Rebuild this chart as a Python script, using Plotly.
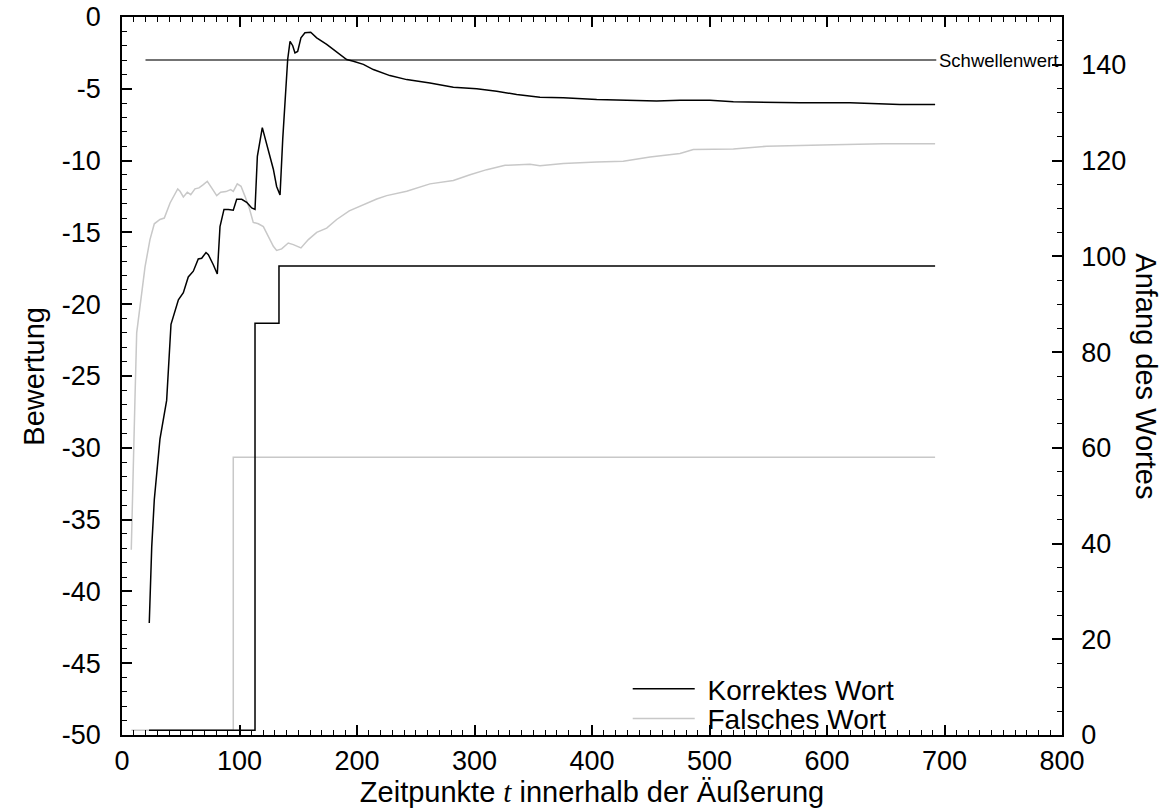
import plotly.graph_objects as go

# ---- data ----
korrekt_t = [23.2, 25.3, 27.5, 32.3, 38, 41.7, 48, 52.2, 56.4, 60.7,
             64.9, 67.8, 71.5, 73.5, 77.7, 81.1, 83.4, 86.8, 90.5, 94.7,
             97.6, 101.9, 106.1, 110.4, 113.2, 115.2, 119.4, 123.1, 128.8, 131.6,
             134.5, 136.8, 138.7, 141, 143, 145.3, 147.2, 149.5, 152.3, 155.7,
             160.6, 165.7, 174.2, 182.7, 191.2, 196.9, 205.4, 213.9, 228, 242.3,
             262.1, 282, 301.9, 318.9, 335.9, 355.7, 375.6, 404, 432.3, 455,
             475, 500.4, 520.3, 577, 619.6, 662, 692]
korrekt_score = [-42.2, -36.9, -33.6, -29.4, -26.7, -21.4, -19.7, -19.2, -18.1, -17.7,
                 -16.85, -16.8, -16.4, -16.55, -17.25, -17.9, -14.6, -13.4, -13.4, -13.45,
                 -12.7, -12.7, -12.9, -13.3, -13.4, -9.7, -7.7, -8.8, -10.6, -11.8,
                 -12.4, -8.5, -5.75, -2.96, -1.7, -2.0, -2.5, -2.4, -1.45, -1.1,
                 -1.06, -1.45, -1.9, -2.4, -2.96, -3.08, -3.3, -3.66, -4.08, -4.36,
                 -4.59, -4.89, -5.0, -5.17, -5.4, -5.59, -5.63, -5.75, -5.8, -5.85,
                 -5.8, -5.8, -5.9, -5.98, -5.98, -6.1, -6.1]

falsch_t = [7.9, 9.6, 11, 12.5, 16.2, 19.6, 23.8, 27.5, 32.3, 36,
            40.9, 45.1, 47.4, 49.4, 52.2, 55.6, 58.5, 62.1, 65.5, 69.2,
            72.6, 76.3, 80.6, 84, 88.5, 92.5, 94.7, 98.1, 101.3, 104.7,
            108.3, 111.7, 116, 120.3, 124.5, 128.8, 131.6, 135.9, 141.5, 145.8,
            152.3, 158.6, 165.7, 174.2, 182.7, 193.4, 216.8, 225.3, 242.3, 262.1,
            282, 296.2, 310.4, 326, 347.2, 355.7, 375.6, 404, 426.6, 449.4,
            474.9, 486.2, 520.3, 548.7, 605.4, 648, 692]
falsch_score = [-37.1, -30.6, -26.7, -22, -19.7, -17.4, -15.5, -14.4, -14.1, -14.0,
                -12.95, -12.25, -11.97, -12.14, -12.53, -12.2, -12.37, -11.97, -11.9, -11.67,
                -11.44, -11.9, -12.44, -12.2, -12.16, -12.02, -12.14, -11.62, -11.79, -12.49,
                -13.3, -14.3, -14.4, -14.6, -15.3, -15.97, -16.25, -16.15, -15.74, -15.85,
                -16.08, -15.5, -15.0, -14.7, -14.1, -13.5, -12.67, -12.44, -12.14, -11.62,
                -11.39, -10.98, -10.63, -10.33, -10.26, -10.35, -10.21, -10.09, -10.05, -9.75,
                -9.51, -9.23, -9.19, -9.0, -8.89, -8.82, -8.82]

# word start frame (right axis), step functions
korrekt_anfang_t = [23, 113.2, 133.6, 692]
korrekt_anfang = [1, 86, 98, 98]
falsch_anfang_t = [8, 94.7, 692]
falsch_anfang = [1, 58, 58]

schwelle_t = [20, 693]
schwelle_wert = -3
schwelle_label = "Schwellenwert"

# tick labels (plain hyphen as minus sign)
y_tickvals = [0, -5, -10, -15, -20, -25, -30, -35, -40, -45, -50]
y_ticktext = ["0", "-5", "-10", "-15", "-20", "-25", "-30", "-35", "-40", "-45", "-50"]

FONT = "Liberation Sans, Arial, sans-serif"
GREY = "#c8c8c8"
TICK_SIZE = 27
TITLE_SIZE = 29
LEGEND_SIZE = 28

fig = go.Figure()
fig.add_trace(go.Scatter(x=schwelle_t, y=[schwelle_wert] * len(schwelle_t), mode="lines",
                         line=dict(color="#444444", width=1.5), showlegend=False, hoverinfo="skip"))
fig.add_trace(go.Scatter(x=falsch_anfang_t, y=falsch_anfang, mode="lines", line_shape="hv",
                         line=dict(color=GREY, width=1.5), yaxis="y2", showlegend=False))
fig.add_trace(go.Scatter(x=korrekt_anfang_t, y=korrekt_anfang, mode="lines", line_shape="hv",
                         line=dict(color="black", width=1.5), yaxis="y2", showlegend=False))
fig.add_trace(go.Scatter(x=falsch_t, y=falsch_score, mode="lines", name="&nbsp;Falsches Wort",
                         line=dict(color=GREY, width=1.5), legend="legend2"))
fig.add_trace(go.Scatter(x=korrekt_t, y=korrekt_score, mode="lines", name="&nbsp;Korrektes Wort",
                         line=dict(color="black", width=1.5), legend="legend"))

fig.add_annotation(x=schwelle_t[-1], y=schwelle_wert, xref="x", yref="y", text=schwelle_label,
                   showarrow=False, xanchor="left", yanchor="middle", xshift=1,
                   font=dict(family=FONT, size=18.5, color="black"))

fig.add_annotation(x=1.089, y=0.5, xref="paper", yref="paper", text="Anfang des Wortes",
                   textangle=90, showarrow=False, xanchor="center", yanchor="middle",
                   font=dict(family=FONT, size=TITLE_SIZE, color="black"))
fig.add_annotation(x=-0.094, y=0.5, xref="paper", yref="paper", text="Bewertung",
                   textangle=-90, showarrow=False, xanchor="center", yanchor="middle",
                   font=dict(family=FONT, size=TITLE_SIZE, color="black"))

tickfont = dict(family=FONT, size=TICK_SIZE, color="black")
legend_common = dict(xanchor="left", yanchor="middle", bgcolor="rgba(0,0,0,0)",
                     font=dict(family=FONT, size=LEGEND_SIZE, color="black"), itemwidth=62,
                     borderwidth=0)
fig.update_layout(
    width=1174, height=811,
    margin=dict(l=122, r=112, t=17, b=76, autoexpand=False),
    paper_bgcolor="white", plot_bgcolor="white",
    font=dict(family=FONT, size=TICK_SIZE, color="black"),
    xaxis=dict(range=[0, 800], dtick=100, tick0=0, ticks="inside", ticklen=10, tickwidth=1.5,
               tickcolor="black", showline=True, linecolor="black", linewidth=1.5, mirror="ticks",
               showgrid=False, zeroline=False, tickfont=tickfont, ticklabelstandoff=1,
               minor=dict(dtick=10, ticks="inside", ticklen=5, tickwidth=1.2, tickcolor="black"),
               title=dict(text="Zeitpunkte <span style=\"font-family:'Liberation Serif'\"><i>t</i></span> innerhalb der Äußerung",
                          font=dict(family=FONT, size=TITLE_SIZE), standoff=0)),
    yaxis=dict(range=[-50, 0], tickvals=y_tickvals, ticktext=y_ticktext, ticks="inside",
               ticklen=10, tickwidth=1.5,
               tickcolor="black", showline=True, linecolor="black", linewidth=1.5, mirror=False,
               showgrid=False, zeroline=False, tickfont=tickfont, ticklabelstandoff=14,
               minor=dict(dtick=1, ticks="inside", ticklen=5, tickwidth=1.2, tickcolor="black")),
    yaxis2=dict(range=[0, 150], dtick=20, overlaying="y", side="right", ticks="inside", ticklen=10,
                tickwidth=1.5, tickcolor="black", showline=True, linecolor="black", linewidth=1.5,
                showgrid=False, zeroline=False, tickfont=tickfont, ticklabelstandoff=12,
                minor=dict(dtick=5, ticks="inside", ticklen=5, tickwidth=1.2, tickcolor="black")),
    legend=dict(x=0.538, y=0.0640, **legend_common),
    legend2=dict(x=0.538, y=0.0225, **legend_common),
    showlegend=True,
)

fig.write_html("out.html")
